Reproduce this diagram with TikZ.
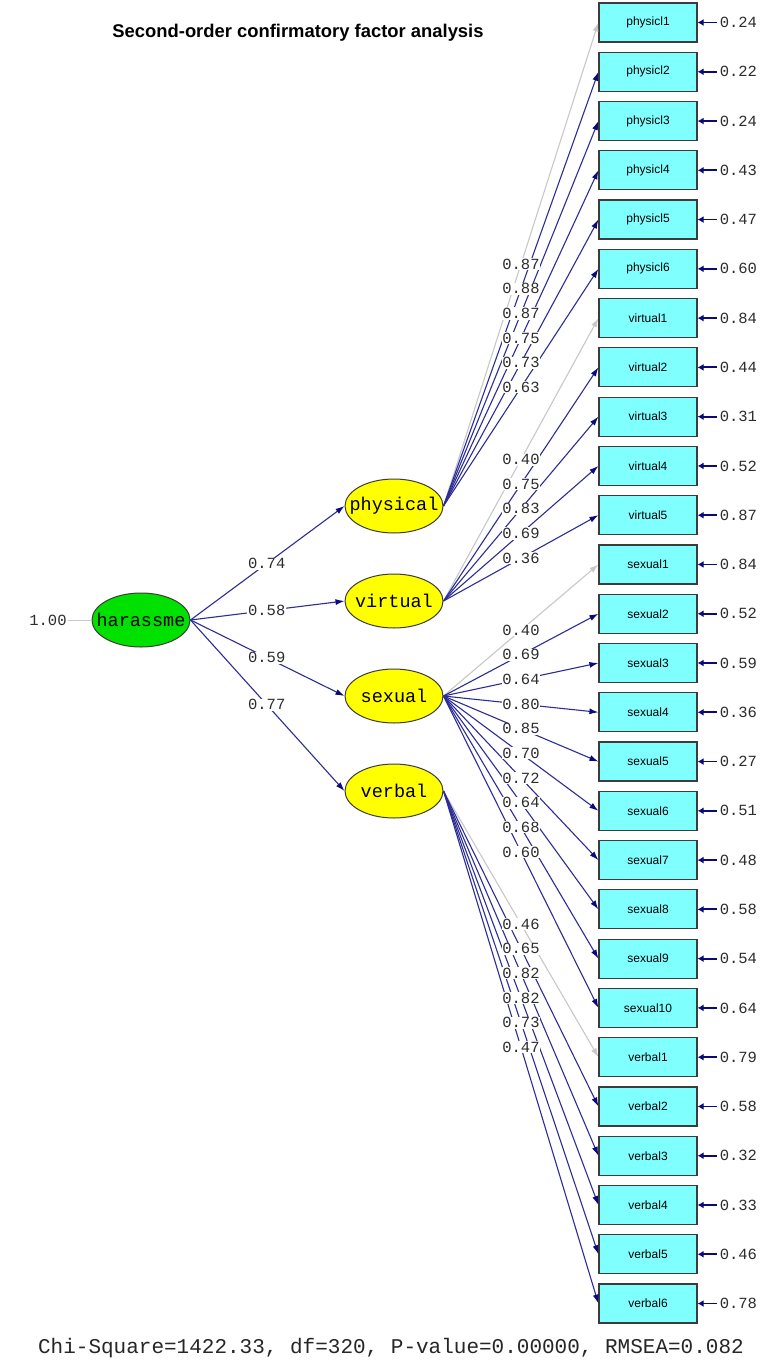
\documentclass[tikz,border=0pt]{standalone}
\usepackage{fontspec}
\setmainfont{Liberation Sans}
\newfontfamily\monof{Liberation Mono}
\usetikzlibrary{arrows.meta,shapes.geometric}
\definecolor{pathc}{RGB}{45,45,150}
\definecolor{tipc}{RGB}{10,10,125}
\definecolor{fixc}{RGB}{200,200,200}
\definecolor{boxc}{RGB}{128,255,255}
\definecolor{yel}{RGB}{255,255,0}
\definecolor{grn}{RGB}{0,225,0}
\definecolor{edgec}{RGB}{60,60,60}
\definecolor{txtc}{RGB}{45,45,45}
\begin{document}
\begin{tikzpicture}[x=1pt,y=-1pt,
  obs/.style={draw=edgec,line width=1.2pt,fill=boxc,minimum width=98pt,minimum height=39pt,inner sep=0pt,font=\fontsize{12}{12}\selectfont},
  lat/.style={ellipse,draw=edgec,line width=1pt,minimum width=98pt,minimum height=54pt,inner xsep=-12pt,inner ysep=0pt,font=\monof\fontsize{18.5}{18.5}\selectfont},
  loadline/.style={draw=pathc,line width=1.1pt,-{Latex[length=9pt,width=6pt,color=tipc]}},
  fixline/.style={draw=fixc,line width=1.1pt,-{Latex[length=9pt,width=6pt]}},
  val/.style={font=\monof\fontsize{15.5}{15.5}\selectfont,text=txtc,fill=white,inner sep=0.8pt},
  errval/.style={font=\monof\fontsize{15.5}{15.5}\selectfont,text=txtc,inner sep=0pt,anchor=west},
  errline/.style={draw=tipc,line width=1.8pt,-{Latex[length=6pt,width=7pt]}},
]
\fill[white] (0,0) rectangle (780,1370);
\useasboundingbox (0,0) rectangle (780,1370);

% title and fit line
\node[font=\bfseries\fontsize{18.4}{18.4}\selectfont] (title) at (298,33) {Second-order confirmatory factor analysis};
\node[font=\monof\fontsize{21}{21}\selectfont,text=black!85] (fit) at (391,1348) {Chi-Square=1422.33, df=320, P-value=0.00000, RMSEA=0.082};

% latent variables
\node[lat,fill=grn] (h) at (141,620) {harassme};
\node[lat,fill=yel] (phys) at (394,506) {physical};
\node[lat,fill=yel] (virt) at (394,601) {virtual};
\node[lat,fill=yel] (sexl) at (394,696) {sexual};
\node[lat,fill=yel] (verb) at (394,791) {verbal};

% observed variables with error variances
\foreach \n/\e [count=\i from 0] in {physicl1/0.24,physicl2/0.22,physicl3/0.24,physicl4/0.43,physicl5/0.47,physicl6/0.60,
  virtual1/0.84,virtual2/0.44,virtual3/0.31,virtual4/0.52,virtual5/0.87,
  sexual1/0.84,sexual2/0.52,sexual3/0.59,sexual4/0.36,sexual5/0.27,sexual6/0.51,sexual7/0.48,sexual8/0.58,sexual9/0.54,sexual10/0.64,
  verbal1/0.79,verbal2/0.58,verbal3/0.32,verbal4/0.33,verbal5/0.46,verbal6/0.78}{
  \node[obs] (\n) at (648,{22.5+49.27*\i}) {\n};
  \path (\n.east) ++(19,0) coordinate (t-\n);
  \path (\n.east) ++(22,0) node[errval] (ev-\n) {\e};
  \draw[errline] (t-\n) -- (\n.east);
}

% variance of second-order factor
\node[val,fill=none] (var) at (48,620) {1.00};
\draw[fixc,line width=1pt] (var.east) -- (h.west);

% second-order paths
\foreach \f in {phys,virt,sexl,verb}{
  \draw[loadline] (h.east) -- (\f.west);
}

% first-order paths (lines)
\draw[fixline] (phys.east) -- (physicl1.west);
\foreach \n in {physicl2,physicl3,physicl4,physicl5,physicl6}{\draw[loadline] (phys.east) -- (\n.west);}
\draw[fixline] (virt.east) -- (virtual1.west);
\foreach \n in {virtual2,virtual3,virtual4,virtual5}{\draw[loadline] (virt.east) -- (\n.west);}
\draw[fixline] (sexl.east) -- (sexual1.west);
\foreach \n in {sexual2,sexual3,sexual4,sexual5,sexual6,sexual7,sexual8,sexual9,sexual10}{\draw[loadline] (sexl.east) -- (\n.west);}
\draw[fixline] (verb.east) -- (verbal1.west);
\foreach \n in {verbal2,verbal3,verbal4,verbal5,verbal6}{\draw[loadline] (verb.east) -- (\n.west);}

% labels
\foreach \f/\l in {phys/0.74,virt/0.58,sexl/0.59,verb/0.77}{
  \path (h.east) -- node[val,pos=0.495]{\l} (\f.west);
}
\foreach \n/\l in {physicl1/0.87,physicl2/0.88,physicl3/0.87,physicl4/0.75,physicl5/0.73,physicl6/0.63}{
  \path (phys.east) -- node[val,pos=0.5]{\l} (\n.west);
}
\foreach \n/\l in {virtual1/0.40,virtual2/0.75,virtual3/0.83,virtual4/0.69,virtual5/0.36}{
  \path (virt.east) -- node[val,pos=0.5]{\l} (\n.west);
}
\foreach \n/\l in {sexual1/0.40,sexual2/0.69,sexual3/0.64,sexual4/0.80,sexual5/0.85,sexual6/0.70,sexual7/0.72,sexual8/0.64,sexual9/0.68,sexual10/0.60}{
  \path (sexl.east) -- node[val,pos=0.5]{\l} (\n.west);
}
\foreach \n/\l in {verbal1/0.46,verbal2/0.65,verbal3/0.82,verbal4/0.82,verbal5/0.73,verbal6/0.47}{
  \path (verb.east) -- node[val,pos=0.5]{\l} (\n.west);
}
\end{tikzpicture}
\end{document}
